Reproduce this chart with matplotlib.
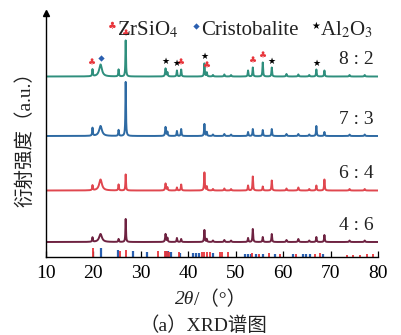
import numpy as np
import matplotlib
matplotlib.use("Agg")
import matplotlib.pyplot as plt
from matplotlib.lines import Line2D

plt.rcParams['font.family'] = ['Liberation Serif', 'Noto Sans CJK SC', 'DejaVu Sans']
plt.rcParams['mathtext.fontset'] = 'stix'

# ---------------- data ----------------
samples = ["8 : 2", "7 : 3", "6 : 4", "4 : 6"]
colors = ["#2f8f7d", "#2e6aa3", "#e0474f", "#6e2241"]
baselines = [180.5, 121.0, 66.5, 15.0]

peak_pos = [19.8, 21.5, 25.3, 26.8, 35.2, 35.6, 37.6, 38.5, 43.4, 43.9,
            52.6, 53.6, 55.7, 57.6, 63.2, 67.0, 68.7,
            45.2, 47.6, 49.0, 60.7, 65.5, 74.0, 77.2]
peak_hwhm = [0.08, 0.35, 0.08, 0.07, 0.10, 0.08, 0.08, 0.08, 0.08, 0.08,
             0.08, 0.08, 0.08, 0.08, 0.10, 0.08, 0.08,
             0.10, 0.10, 0.10, 0.10, 0.10, 0.10, 0.10]
heights_82 = [7, 12, 7, 36, 8, 4, 6, 7, 13, 4, 6, 9, 14, 9, 2, 7, 6, 1.5, 2, 1.5, 2.5, 1.5, 1.5, 1.5]
heights_73 = [8, 10, 6, 54, 9, 4, 5, 7, 12, 4, 4, 7, 6, 7, 2, 10, 4, 1.5, 2, 1.5, 2, 1.5, 1.5, 1.5]
heights_64 = [5, 11, 6, 16, 7, 3, 3, 6, 18, 4, 5, 14, 4, 10, 3, 5, 11, 1.5, 2, 1.5, 2, 1.5, 1.5, 1.5]
heights_46 = [4.5, 8, 3, 23, 8, 4, 4, 3, 12, 3, 4, 13, 5, 8, 3, 5, 7, 1.5, 2, 1.5, 2, 1.5, 1.5, 1.5]
all_heights = [heights_82, heights_73, heights_64, heights_46]

# reference stick patterns
zircon_ref_pos = [19.9, 25.6, 26.9, 33.6, 35.0, 35.5, 36.0, 38.0, 42.8, 43.4, 43.9, 44.6,
                  46.6, 47.2, 48.3, 53.5, 55.0, 57.1, 59.3, 62.8, 66.7, 67.7,
                  73.4, 74.7, 76.2, 77.6, 79.0]
zircon_ref_int = [9, 6, 7, 6, 6, 6, 5, 5, 5, 5, 5, 5,
                  5, 5, 5, 4, 3, 4, 3, 3, 3, 4,
                  2, 2, 2, 3, 3]
cristo_ref_pos = [21.7, 25.1, 28.3, 31.2, 35.3, 35.8, 36.3, 38.2, 40.9, 41.6, 42.2, 45.2,
                  51.9, 52.6, 53.2, 54.2, 55.7, 58.2, 62.1, 64.2, 64.9, 65.6, 68.4]
cristo_ref_int = [9, 7, 6, 5, 6, 6, 5, 4, 4, 4, 4, 4,
                  3, 3, 3, 3, 3, 3, 3, 3, 3, 3, 3]

# phase markers on the 8:2 pattern (peak index)
zircon_mark_idx = [0, 3, 7, 9, 11, 12]
cristo_mark_idx = [1]
alumina_mark_idx = [4, 6, 8, 13, 15]

xticks = [10, 20, 30, 40, 50, 60, 70, 80]

# ---------------- figure ----------------
W, H = 401, 335
fig = plt.figure(figsize=(W / 100, H / 100), dpi=100)
ax = fig.add_axes([46 / W, 1 - 257 / H, 332 / W, 244 / H])

x = np.arange(10, 80.001, 0.02)

def profile(hs):
    y = np.zeros_like(x)
    for p, w, h in zip(peak_pos, peak_hwhm, hs):
        y += h / (1 + ((x - p) / w) ** 2)
    return y

for base, hs, c in zip(baselines, all_heights, colors):
    ax.plot(x, base + profile(hs), color=c, lw=1.4, solid_joinstyle='round')

for lab, base in zip(samples, baselines):
    ax.text(79, base + 17, lab, ha='right', va='center', fontsize=14,
            color='#222222')

# reference sticks
ax.vlines(cristo_ref_pos, 0, cristo_ref_int, colors='#2a5fb0', lw=1.6)
ax.vlines(zircon_ref_pos, 0, zircon_ref_int, colors='#e8353b', lw=1.3)

# phase markers above 8:2 peaks
b0 = baselines[0]
prof0 = b0 + profile(heights_82)
def top_at(p):
    return prof0[np.argmin(np.abs(x - p))]

for i in zircon_mark_idx:
    p = peak_pos[i]
    ax.text(p, top_at(p) + 2, "♣", color='#e8353b', fontsize=6.5,
            ha='center', va='bottom', family='DejaVu Sans')
for i in cristo_mark_idx:
    p = peak_pos[i]
    ax.plot(p, top_at(p) + 6, 'D', color='#2a5fb0', ms=3.2, mec='none')
for i in alumina_mark_idx:
    p = peak_pos[i]
    ax.text(p, top_at(p) + 2, "★", color='black', fontsize=6.5,
            ha='center', va='bottom', family='DejaVu Sans')

ax.set_xlim(10, 80)
ax.set_ylim(0, 244)
ax.set_xticks(xticks)
ax.set_yticks([])
ax.tick_params(axis='x', direction='in', length=4.5, width=0.9,
               labelsize=14, pad=6)
for s in ['top', 'right']:
    ax.spines[s].set_visible(False)
ax.spines['left'].set_linewidth(1.0)
ax.spines['bottom'].set_linewidth(1.0)
ax.plot(0, 1, marker='^', color='black', ms=5, transform=ax.transAxes,
        clip_on=False)
ax.patch.set_visible(False)

ax.set_ylabel("衍射强度（a.u.）", fontsize=14, labelpad=8, color='#222222')

# x label and caption
xl_y = 1 - 300 / H
fig.text(194 / W, xl_y, "2θ", ha='right', va='center', fontsize=14,
         style='italic', color='#222222')
fig.text(194 / W, xl_y, "/（°）", ha='left', va='center', fontsize=14,
         color='#222222')
fig.text(203 / W, 1 - 326 / H, "（a）XRD谱图", ha='center', va='center',
         fontsize=14, color='#222222')

# legend
ly = 1 - 26 / H
fig.text(112 / W, ly, "♣", color='#e8353b', fontsize=7, ha='center',
         va='center', family='DejaVu Sans')
fig.text(117 / W, 1 - 35 / H, r"ZrSiO$_4$", fontsize=15, ha='left',
         va='baseline', color='#222222')
fig.add_artist(Line2D([196 / W], [ly], marker='D', color='#2a5fb0', ms=3.2,
                      mec='none', transform=fig.transFigure))
fig.text(201 / W, 1 - 35 / H, "Cristobalite", fontsize=15, ha='left',
         va='baseline', color='#222222')
fig.text(316 / W, ly, "★", color='black', fontsize=7, ha='center',
         va='center', family='DejaVu Sans')
fig.text(320 / W, 1 - 35 / H, r"Al$_2$O$_3$", fontsize=15, ha='left',
         va='baseline', color='#222222')

fig.savefig("out.png", dpi=100)
